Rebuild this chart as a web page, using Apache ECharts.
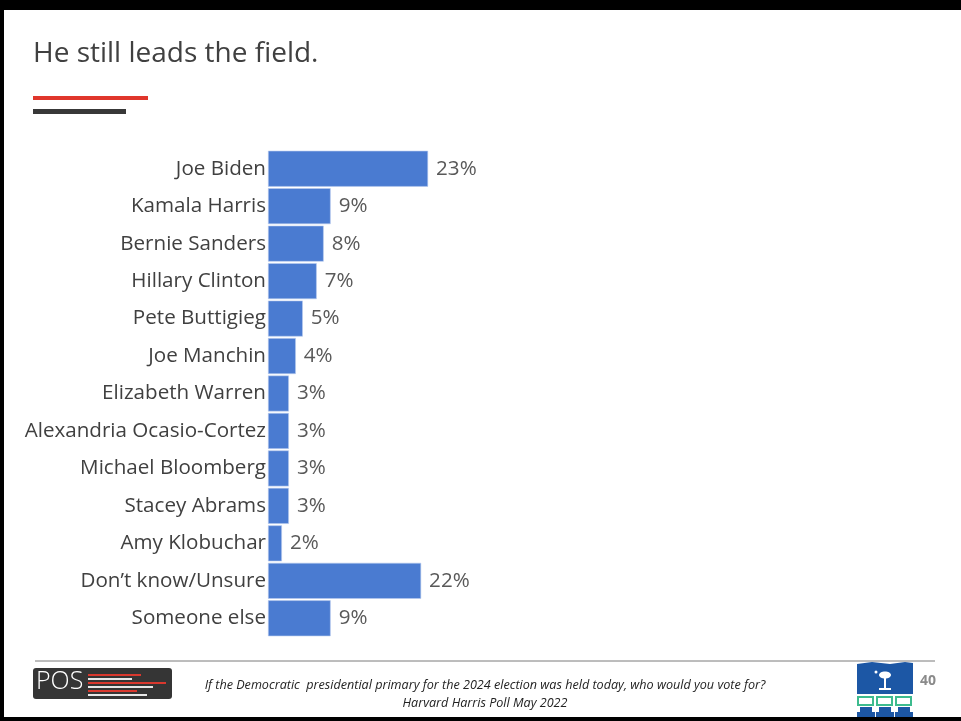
<!DOCTYPE html>
<html>
<head>
<meta charset="utf-8">
<script src="https://cdn.jsdelivr.net/npm/echarts@6/dist/echarts.min.js"></script>
<style>
html,body{margin:0;padding:0;background:#fff;}
#chart{width:961px;height:721px;}
</style>
</head>
<body>
<div id="chart"></div>
<script>
const categories = ["Joe Biden","Kamala Harris","Bernie Sanders","Hillary Clinton","Pete Buttigieg","Joe Manchin","Elizabeth Warren","Alexandria Ocasio-Cortez","Michael Bloomberg","Stacey Abrams","Amy Klobuchar","Don\u2019t know/Unsure","Someone else"];
const values = [23,9,8,7,5,4,3,3,3,3,2,22,9];
const titleText = "He still leads the field.";
const footnote1 = "If the Democratic  presidential primary for the 2024 election was held today, who would you vote for?";
const footnote2 = "Harvard Harris Poll May 2022";
const pageNumber = "40";

const chart = echarts.init(document.getElementById('chart'), null, {renderer:'canvas'});
const FONT = '"Open Sans", "Noto Sans", sans-serif';

const posLines = [
  {y:674, x2:141, c:'#d9382e'},
  {y:678, x2:132, c:'#e8e8e8'},
  {y:682, x2:166, c:'#d9382e'},
  {y:686, x2:153, c:'#e8e8e8'},
  {y:690, x2:137, c:'#d9382e'},
  {y:694, x2:147, c:'#e8e8e8'}
];

const graphics = [
  {type:'rect', shape:{x:0,y:0,width:961,height:10}, style:{fill:'#000'}, silent:true},
  {type:'rect', shape:{x:0,y:0,width:4,height:721}, style:{fill:'#000'}, silent:true},
  {type:'rect', shape:{x:0,y:717,width:961,height:4}, style:{fill:'#000'}, silent:true},
  {type:'text', left:33, top:40, style:{text:titleText, font:'28px '+FONT, fill:'#404040'}},
  {type:'rect', shape:{x:33,y:96,width:115,height:4}, style:{fill:'#e0362c'}},
  {type:'rect', shape:{x:33,y:109,width:93,height:5}, style:{fill:'#383838'}},
  {type:'line', shape:{x1:35,y1:661,x2:935,y2:661}, style:{stroke:'#7a7a7a', lineWidth:1}},
  {type:'rect', shape:{x:33,y:668,width:139,height:31,r:3}, style:{fill:'#353535'}},
  {type:'text', left:36, top:669, style:{text:'POS', font:'300 25px '+FONT, fill:'#fff'}},
  {type:'text', x:485, y:685, style:{text:footnote1, font:'italic 12.6px '+FONT, fill:'#222', align:'center', verticalAlign:'middle'}},
  {type:'text', x:485, y:703, style:{text:footnote2, font:'italic 12.6px '+FONT, fill:'#222', align:'center', verticalAlign:'middle'}},
  {type:'text', x:928, y:681, style:{text:pageNumber, font:'bold 14px '+FONT, fill:'#8a8a8a', align:'center', verticalAlign:'middle'}},
  // right logo
  {type:'polygon', shape:{points:[[857,664],[872,662],[890,664],[905,662],[913,663],[913,694],[857,694]]}, style:{fill:'#1c57a5'}},
  {type:'rect', shape:{x:884,y:676,width:2,height:12}, style:{fill:'#fff'}},
  {type:'ellipse', shape:{cx:885,cy:675,rx:6,ry:3.5}, style:{fill:'#fff'}},
  {type:'rect', shape:{x:879,y:688,width:12,height:2}, style:{fill:'#fff'}},
  {type:'circle', shape:{cx:876,cy:672,r:1.5}, style:{fill:'#fff'}}
];
posLines.forEach(l=>graphics.push({type:'rect', shape:{x:88,y:l.y,width:l.x2-88,height:2}, style:{fill:l.c}}));
[857,876,895].forEach(x=>{
  graphics.push({type:'rect', shape:{x:x+1,y:697,width:15,height:8}, style:{fill:'none', stroke:'#3dbb8e', lineWidth:2}});
  graphics.push({type:'rect', shape:{x:x+3,y:707,width:12,height:5}, style:{fill:'#1c57a5'}});
  graphics.push({type:'rect', shape:{x:x,y:712,width:18,height:5}, style:{fill:'#1c57a5'}});
});

chart.setOption({
  animation:false,
  backgroundColor:'#fff',
  grid:{left:268, top:150, width:174, height:487, containLabel:false},
  xAxis:{type:'value', min:0, max:25, show:false},
  yAxis:{type:'category', data:categories, inverse:true,
    axisLine:{show:false}, axisTick:{show:false}, splitLine:{show:false},
    axisLabel:{margin:2, fontSize:20.6, fontFamily:FONT, color:'#404040'}},
  series:[{type:'bar', data:values, barCategoryGap:'4%',
    itemStyle:{color:'#4a7bd1', borderColor:'#b9cbee', borderWidth:0.6},
    label:{show:true, position:'right', distance:8, formatter:'{c}%', fontSize:20.6, fontFamily:FONT, color:'#595959'}}],
  graphic:graphics
});
</script>
</body>
</html>
